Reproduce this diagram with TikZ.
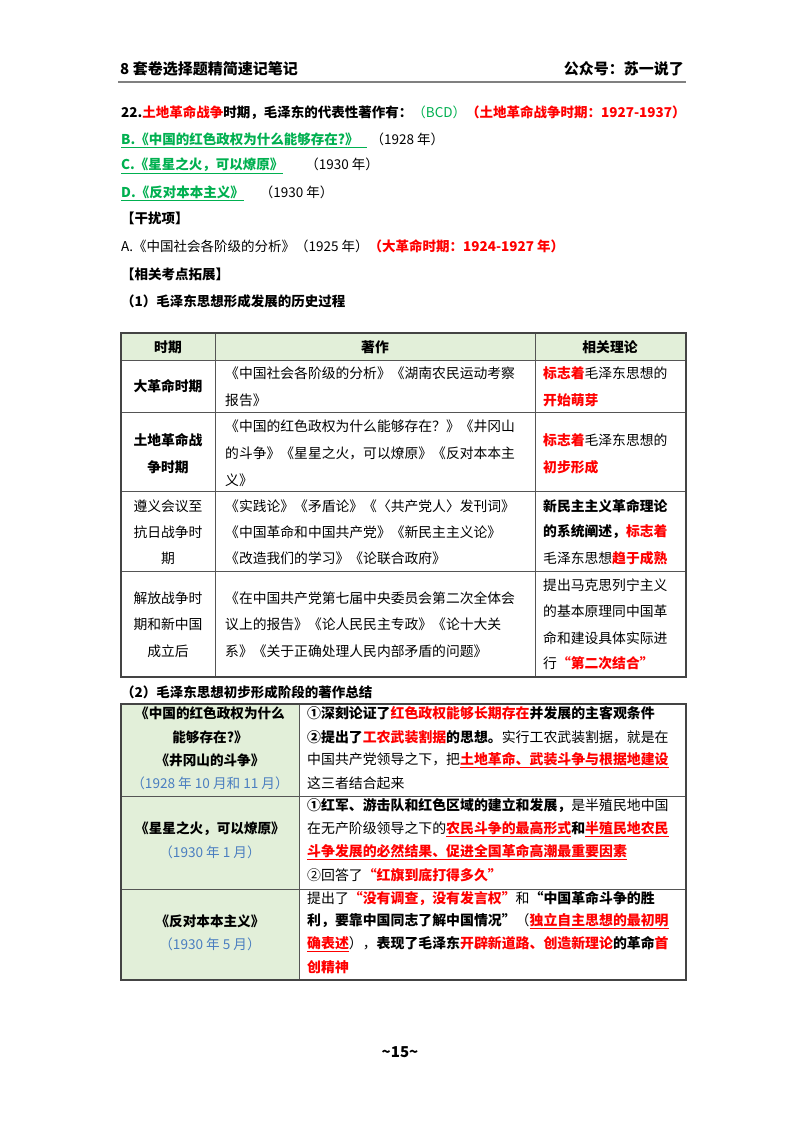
\documentclass[tikz,border=0pt]{standalone}
\usepackage{fontspec}
\setmainfont{Noto Sans CJK SC}
\definecolor{rd}{HTML}{FF0000}
\definecolor{gr}{HTML}{00B050}
\definecolor{bl}{HTML}{4A7EC0}
\definecolor{hdr}{HTML}{E2EFD9}
\definecolor{bd}{HTML}{555555}
\newcommand{\R}[1]{\textcolor{rd}{\textbf{#1}}}
\newcommand{\RU}[1]{\textcolor{rd}{\underline{\textbf{#1}}}}
\newcommand{\B}[1]{\textbf{#1}}
\begin{document}
\begin{tikzpicture}[x=1pt,y=-1pt,
  ln/.style={anchor=west,inner sep=0,font=\fontsize{13.5}{16}\selectfont},
  tl/.style={anchor=west,inner sep=0,font=\fontsize{13.8}{16}\selectfont},
  tc/.style={anchor=center,inner sep=0,font=\fontsize{13.8}{16}\selectfont},
  sl/.style={anchor=west,inner sep=0,font=\fontsize{13.9}{16}\selectfont},
  sc/.style={anchor=center,inner sep=0,font=\fontsize{13.6}{16}\selectfont},
  grid/.style={draw=bd,line width=0.8pt},
  outer/.style={draw=bd!80!black,line width=1.2pt}]
\useasboundingbox[fill=white] (0,0) rectangle (800,1132);
% header
\node[ln,font=\fontsize{15}{18}\selectfont\bfseries] (h1) at (120,69) {8 套卷选择题精简速记笔记};
\node[anchor=east,inner sep=0,font=\fontsize{15}{18}\selectfont\bfseries] (h2) at (684,69) {公众号：苏一说了};
\draw[gray,line width=1.6pt] (118,82) -- (686,82);
% question
\node[ln] (q) at (121,113) {\B{22.}\R{土地革命战争}\B{时期，毛泽东的代表性著作有：}\textcolor{gr}{（BCD）}\R{（土地革命战争时期：1927-1937）}};
\node[ln] (qb) at (121,140) {\textcolor{gr}{\underline{\textbf{B.《中国的红色政权为什么能够存在?》\hspace{8pt}}}}\hspace{4pt}（1928 年）};
\node[ln] (qc) at (121,166) {\textcolor{gr}{\underline{\textbf{C.《星星之火，可以燎原》}}}\hspace{22pt}（1930 年）};
\node[ln] (qd) at (121,193) {\textcolor{gr}{\underline{\textbf{D.《反对本本主义》}}}\hspace{16pt}（1930 年）};
\node[ln] (g) at (121,218) {\B{【干扰项】}};
\node[ln] (qa) at (121,246) {A.《中国社会各阶级的分析》（1925 年）\R{（大革命时期：1924-1927 年）}};
\node[ln] (x) at (121,274) {\B{【相关考点拓展】}};
\node[ln] (s1) at (121,301) {\B{（1）毛泽东思想形成发展的历史过程}};
% table 1
\fill[hdr] (121,333) rectangle (686,360);
\draw[grid] (121,360) -- (686,360) (121,412) -- (686,412) (121,491) -- (686,491) (121,571) -- (686,571)
  (215,333) -- (215,677) (535,333) -- (535,677);
\draw[outer] (121,333) rectangle (686,677);
\node[tc,font=\fontsize{13.8}{16}\selectfont\bfseries] (c1) at (168,347) {时期};
\node[tc,font=\fontsize{13.8}{16}\selectfont\bfseries] (c2) at (375,347) {著作};
\node[tc,font=\fontsize{13.8}{16}\selectfont\bfseries] (c3) at (610,347) {相关理论};
\node[tc] (r1a) at (168,386) {\B{大革命时期}};
\node[tl] (r1b) at (225,373) {《中国社会各阶级的分析》《湖南农民运动考察};
\node[tl] (r1c) at (225,400) {报告》};
\node[tl] (r1d) at (543,373) {\R{标志着}毛泽东思想的};
\node[tl] (r1e) at (543,400) {\R{开始萌芽}};
\node[tc] (r2a) at (168,440) {\B{土地革命战}};
\node[tc] (r2b) at (168,467) {\B{争时期}};
\node[tl] (r2c) at (225,426) {《中国的红色政权为什么能够存在？》《井冈山};
\node[tl] (r2d) at (225,453) {的斗争》《星星之火，可以燎原》《反对本本主};
\node[tl] (r2e) at (225,480) {义》};
\node[tl] (r2f) at (543,440) {\R{标志着}毛泽东思想的};
\node[tl] (r2g) at (543,467) {\R{初步形成}};
\node[tc] (r3a) at (168,506) {遵义会议至};
\node[tc] (r3b) at (168,532) {抗日战争时};
\node[tc] (r3c) at (168,558) {期};
\node[tl] (r3d) at (225,506) {《实践论》《矛盾论》《〈共产党人〉发刊词》};
\node[tl] (r3e) at (225,532) {《中国革命和中国共产党》《新民主主义论》};
\node[tl] (r3f) at (225,558) {《改造我们的学习》《论联合政府》};
\node[tl] (r3g) at (543,506) {\B{新民主主义革命理论}};
\node[tl] (r3h) at (543,532) {\B{的系统阐述，}\R{标志着}};
\node[tl] (r3i) at (543,558) {毛泽东思想\R{趋于成熟}};
\node[tc] (r4a) at (168,598) {解放战争时};
\node[tc] (r4b) at (168,624) {期和新中国};
\node[tc] (r4c) at (168,651) {成立后};
\node[tl] (r4d) at (225,598) {《在中国共产党第七届中央委员会第二次全体会};
\node[tl] (r4e) at (225,624) {议上的报告》《论人民民主专政》《论十大关};
\node[tl] (r4f) at (225,651) {系》《关于正确处理人民内部矛盾的问题》};
\node[tl] (r4g) at (543,585) {提出马克思列宁主义};
\node[tl] (r4h) at (543,611) {的基本原理同中国革};
\node[tl] (r4i) at (543,638) {命和建设具体实际进};
\node[tl] (r4j) at (543,663) {行\R{“第二次结合”}};
% table 2
\node[ln] (s2) at (121,692) {\B{（2）毛泽东思想初步形成阶段的著作总结}};
\fill[hdr] (121,704) rectangle (299,980);
\draw[grid] (121,796) -- (686,796) (121,889) -- (686,889) (299,704) -- (299,980);
\draw[outer] (121,704) rectangle (686,980);
\node[sc] (a1) at (210,713) {\B{《中国的红色政权为什么}};
\node[sc] (a2) at (210,737) {\B{能够存在?》}};
\node[sc] (a3) at (210,760) {\B{《井冈山的斗争》}};
\node[sc] (a4) at (210,783) {\textcolor{bl}{（1928 年 10 月和 11 月）}};
\node[sc] (b1) at (210,829) {\B{《星星之火，可以燎原》}};
\node[sc] (b2) at (210,852) {\textcolor{bl}{（1930 年 1 月）}};
\node[sc] (d1) at (210,921) {\B{《反对本本主义》}};
\node[sc] (d2) at (210,944) {\textcolor{bl}{（1930 年 5 月）}};
\node[sl] (e1) at (307,713) {\B{①深刻论证了}\R{红色政权能够长期存在}\B{并发展的主客观条件}};
\node[sl] (e2) at (307,737) {\B{②提出了}\R{工农武装割据}\B{的思想。}实行工农武装割据，就是在};
\node[sl] (e3) at (307,760) {中国共产党领导之下，把\RU{土地革命、武装斗争与根据地建设}};
\node[sl] (e4) at (307,783) {这三者结合起来};
\node[sl] (f1) at (307,806) {\B{①红军、游击队和红色区域的建立和发展，}是半殖民地中国};
\node[sl] (f2) at (307,829) {在无产阶级领导之下的\RU{农民斗争的最高形式}\B{和}\RU{半殖民地农民}};
\node[sl] (f3) at (307,852) {\RU{斗争发展的必然结果、促进全国革命高潮最重要因素}};
\node[sl] (f4) at (307,875) {②回答了\R{“红旗到底打得多久”}};
\node[sl] (k1) at (307,898) {提出了\R{“没有调查，没有发言权”}和\B{“中国革命斗争的胜}};
\node[sl] (k2) at (307,921) {\B{利，要靠中国同志了解中国情况”}（\RU{独立自主思想的最初明}};
\node[sl] (k3) at (307,944) {\RU{确表述}），\B{表现了毛泽东}\R{开辟新道路、创造新理论}\B{的革命}\R{首}};
\node[sl] (k4) at (307,967) {\R{创精神}};
\node[anchor=center,inner sep=0,font=\fontsize{15}{18}\selectfont\bfseries] (pg) at (400,1052) {\textasciitilde 15\textasciitilde};
\end{tikzpicture}
\end{document}
